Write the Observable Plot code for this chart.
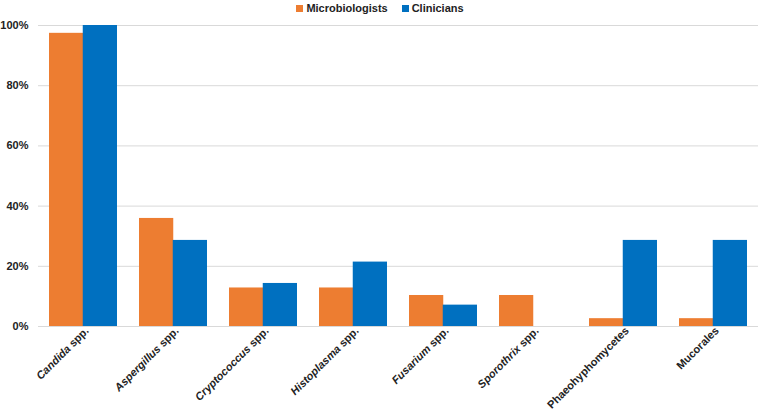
<!DOCTYPE html>
<html>
<head>
<meta charset="utf-8">
<script src="https://cdn.jsdelivr.net/npm/d3@7"></script>
<script src="https://cdn.jsdelivr.net/npm/@observablehq/plot@0.6"></script>
<style>
  body { margin: 0; background: #fff; font-family: "Liberation Sans", Arial, sans-serif; }
  #legend { height: 16px; display: flex; justify-content: center; align-items: center; gap: 14px; font-size: 11px; font-weight: bold; color: #222; padding-top: 0; line-height: 12px; }
  #legend .item { display: flex; align-items: center; gap: 3px; }
  #legend .sw { width: 7px; height: 7px; display: inline-block; }
</style>
</head>
<body>
<div id="legend"></div>
<div id="chart"></div>
<script>
const categories = ["Candida spp.", "Aspergillus spp.", "Cryptococcus spp.", "Histoplasma spp.", "Fusarium spp.", "Sporothrix spp.", "Phaeohyphomycetes", "Mucorales"];
const microbiologists = [97.4, 35.9, 12.8, 12.8, 10.3, 10.3, 2.6, 2.6];
const clinicians = [100, 28.6, 14.3, 21.4, 7.1, 0, 28.6, 28.6];
const seriesNames = ["Microbiologists", "Clinicians"];
const seriesColors = ["#ED7D31", "#0070C0"];
const yTicks = [0, 20, 40, 60, 80, 100];

const W = 760, H = 398, mL = 38, mR = 2, mT = 9, mB = 88;
const step = (W - mL - mR) / categories.length;
const bandwidth = step * 0.75;

const dataM = categories.map((c, i) => ({category: c, value: microbiologists[i]}));
const dataC = categories.map((c, i) => ({category: c, value: clinicians[i]}));

// legend
const legend = d3.select("#legend");
seriesNames.forEach((s, i) => {
  const it = legend.append("span").attr("class", "item");
  it.append("span").attr("class", "sw").style("background", seriesColors[i]);
  it.append("span").text(s);
});

const chart = Plot.plot({
  width: W,
  height: H,
  marginLeft: mL,
  marginRight: mR,
  marginTop: mT,
  marginBottom: mB,
  style: {fontFamily: '"Liberation Sans", Arial, sans-serif', fontSize: "11px", fontWeight: "bold", color: "#222", background: "#fff", overflow: "visible"},
  x: {domain: categories, paddingInner: 0.25, paddingOuter: 0.125, label: null, tickSize: 0, tickPadding: 6, tickRotate: -45},
  y: {domain: [0, 100], ticks: yTicks, tickFormat: d => d + "%", label: null, tickSize: 0, tickPadding: 10},
  marks: [
    Plot.ruleY(yTicks, {stroke: "#d9d9d9", strokeWidth: 1}),
    Plot.barY(dataM, {x: "category", y: "value", fill: seriesColors[0], insetRight: bandwidth / 2}),
    Plot.barY(dataC, {x: "category", y: "value", fill: seriesColors[1], insetLeft: bandwidth / 2})
  ]
});
document.getElementById("chart").appendChild(chart);

// italicize genus names in tick labels
d3.select(chart).selectAll("text").each(function() {
  const t = this.textContent;
  if (categories.includes(t)) {
    const sel = d3.select(this);
    sel.attr("font-size", "11px").attr("dx", "5");
    if (t.endsWith(" spp.")) {
      const genus = t.slice(0, -5);
      sel.text(null);
      sel.append("tspan").attr("font-style", "italic").text(genus);
      sel.append("tspan").text(" spp.");
    }
  }
});
</script>
</body>
</html>
